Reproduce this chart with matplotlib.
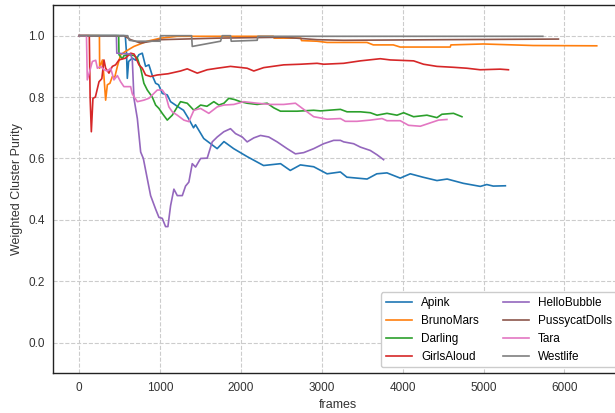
import matplotlib
matplotlib.use("Agg")
import matplotlib.pyplot as plt

# frames / weighted cluster purity
apink_x = [0, 570, 585, 595, 611, 657, 698, 738, 780, 821, 862, 904, 945, 982, 1027, 1089,
           1130, 1213, 1290, 1352, 1414, 1438, 1540, 1706, 1790, 1910, 2077, 2280, 2490,
           2610, 2735, 2900, 3065, 3230, 3310, 3560, 3680, 3806, 3970, 4094, 4250, 4424,
           4550, 4750, 4960, 5040, 5120, 5270]
apink_y = [1.0, 1.0, 0.943, 0.861, 0.916, 0.927, 0.92, 0.938, 0.943, 0.90, 0.905, 0.87,
           0.845, 0.84, 0.812, 0.807, 0.785, 0.77, 0.757, 0.73, 0.70, 0.71, 0.665, 0.632,
           0.655, 0.632, 0.606, 0.577, 0.583, 0.561, 0.579, 0.573, 0.55, 0.556, 0.539, 0.533,
           0.55, 0.553, 0.536, 0.55, 0.539, 0.528, 0.533, 0.519, 0.509, 0.515, 0.51, 0.511]

bruno_x = [0, 250, 253, 287, 306, 327, 348, 380, 410, 440, 472, 513, 574, 677, 842, 1007,
           1213, 2400, 2410, 2740, 2750, 2942, 3065, 3559, 3637, 3884, 3970, 4588, 4597,
           4996, 5613, 6400]
bruno_y = [1.0, 1.0, 0.894, 0.921, 0.867, 0.79, 0.84, 0.845, 0.867, 0.865, 0.90, 0.938,
           0.949, 0.965, 0.982, 0.992, 0.998, 0.998, 0.992, 0.992, 0.984, 0.982, 0.978, 0.978,
           0.97, 0.97, 0.963, 0.963, 0.97, 0.973, 0.968, 0.967]

darling_x = [0, 488, 492, 534, 553, 615, 680, 719, 760, 800, 842, 904, 945, 986, 1027, 1089,
             1151, 1213, 1253, 1336, 1418, 1501, 1580, 1665, 1727, 1790, 1850, 1920, 1995,
             2077, 2200, 2324, 2406, 2489, 2695, 2900, 2983, 3230, 3312, 3477, 3600, 3683,
             3806, 3930, 4012, 4135, 4300, 4424, 4485, 4629, 4733]
darling_y = [1.0, 1.0, 0.938, 0.925, 0.935, 0.938, 0.935, 0.927, 0.894, 0.845, 0.823, 0.80,
             0.774, 0.763, 0.747, 0.725, 0.741, 0.768, 0.785, 0.78, 0.757, 0.774, 0.77, 0.785,
             0.774, 0.78, 0.796, 0.792, 0.785, 0.78, 0.776, 0.78, 0.765, 0.754, 0.754, 0.757,
             0.755, 0.76, 0.752, 0.752, 0.749, 0.741, 0.747, 0.741, 0.749, 0.736, 0.741,
             0.733, 0.744, 0.747, 0.736]

girls_x = [0, 125, 135, 150, 170, 200, 245, 280, 306, 327, 368, 410, 450, 492, 574, 636,
           680, 739, 780, 821, 883, 966, 1100, 1253, 1336, 1460, 1583, 1707, 1871, 2077,
           2159, 2282, 2529, 2735, 2942, 3023, 3270, 3477, 3723, 3847, 4135, 4258, 4424,
           4629, 4794, 4958, 5205, 5308]
girls_y = [1.0, 1.0, 0.80, 0.687, 0.796, 0.80, 0.85, 0.86, 0.921, 0.894, 0.878, 0.90, 0.905,
           0.921, 0.927, 0.943, 0.94, 0.905, 0.894, 0.872, 0.867, 0.872, 0.876, 0.885, 0.892,
           0.878, 0.889, 0.894, 0.90, 0.894, 0.885, 0.896, 0.905, 0.907, 0.91, 0.907, 0.91,
           0.918, 0.925, 0.921, 0.918, 0.907, 0.90, 0.897, 0.894, 0.889, 0.891, 0.889]

hello_x = [0, 460, 465, 636, 657, 677, 719, 760, 793, 842, 883, 945, 986, 1027, 1068, 1097,
           1130, 1171, 1213, 1275, 1315, 1356, 1398, 1439, 1501, 1583, 1645, 1707, 1788,
           1871, 1933, 2016, 2077, 2159, 2242, 2344, 2448, 2571, 2674, 2776, 2900, 3023,
           3147, 3230, 3271, 3394, 3477, 3600, 3683, 3764]
hello_y = [1.0, 1.0, 0.943, 0.94, 0.92, 0.796, 0.73, 0.621, 0.60, 0.534, 0.479, 0.435, 0.408,
           0.405, 0.378, 0.378, 0.446, 0.50, 0.479, 0.479, 0.51, 0.523, 0.583, 0.572, 0.60,
           0.601, 0.654, 0.67, 0.687, 0.697, 0.681, 0.67, 0.654, 0.667, 0.675, 0.67, 0.654,
           0.632, 0.615, 0.619, 0.632, 0.648, 0.659, 0.659, 0.654, 0.648, 0.637, 0.626,
           0.612, 0.596]

pussy_x = [0, 553, 636, 760, 1007, 1707, 2529, 2942, 3270, 4500, 5926]
pussy_y = [1.0, 1.0, 0.987, 0.976, 0.987, 0.992, 0.995, 0.987, 0.985, 0.987, 0.989]

tara_x = [0, 90, 100, 163, 204, 225, 266, 307, 348, 389, 430, 472, 512, 553, 636, 657, 719,
          800, 862, 966, 1027, 1068, 1109, 1151, 1213, 1294, 1356, 1418, 1501, 1603, 1707,
          1788, 1912, 2035, 2201, 2365, 2529, 2674, 2776, 2900, 3065, 3230, 3291, 3436,
          3600, 3745, 3806, 3970, 4073, 4218, 4320, 4444, 4547]
tara_y = [1.0, 1.0, 0.856, 0.916, 0.92, 0.894, 0.90, 0.889, 0.885, 0.894, 0.856, 0.87, 0.85,
          0.834, 0.834, 0.81, 0.785, 0.79, 0.796, 0.823, 0.823, 0.807, 0.768, 0.752, 0.741,
          0.725, 0.72, 0.757, 0.763, 0.747, 0.768, 0.774, 0.776, 0.785, 0.78, 0.776, 0.776,
          0.78, 0.76, 0.736, 0.728, 0.73, 0.721, 0.721, 0.725, 0.73, 0.723, 0.723, 0.708,
          0.705, 0.714, 0.725, 0.727]

west_x = [0, 600, 620, 700, 1000, 1007, 1390, 1398, 1748, 1769, 1871, 1880, 2201, 2210, 5733]
west_y = [1.0, 1.0, 0.985, 0.982, 0.982, 1.0, 1.0, 0.965, 0.982, 1.0, 1.0, 0.982, 0.985,
          0.998, 0.998]

SERIES = [
    ("Apink", apink_x, apink_y),
    ("BrunoMars", bruno_x, bruno_y),
    ("Darling", darling_x, darling_y),
    ("GirlsAloud", girls_x, girls_y),
    ("HelloBubble", hello_x, hello_y),
    ("PussycatDolls", pussy_x, pussy_y),
    ("Tara", tara_x, tara_y),
    ("Westlife", west_x, west_y),
]


def main():
    plt.rcParams["font.family"] = ["Liberation Sans", "DejaVu Sans"]
    fig = plt.figure(figsize=(6.15, 4.13), dpi=100)
    ax = fig.add_axes([0.0867, 0.0961, 0.9257, 0.8918])

    colors = plt.rcParams["axes.prop_cycle"].by_key()["color"]
    for i, (name, xs, ys) in enumerate(SERIES):
        ax.plot(xs, ys, color=colors[i], lw=1.2, label=name)

    ax.set_xlim(-320, 6720)
    ax.set_ylim(-0.1, 1.1)
    ax.set_xticks([0, 1000, 2000, 3000, 4000, 5000, 6000])
    ax.set_yticks([0.0, 0.2, 0.4, 0.6, 0.8, 1.0])
    ax.grid(True, ls="--", color="#cccccc", lw=0.8)
    ax.tick_params(length=0, labelsize=8.5, labelcolor="#333333", pad=6)
    for s in ax.spines.values():
        s.set_color("#222222")
        s.set_linewidth(1.0)
    ax.set_xlabel("frames", fontsize=9, color="#333333")
    ax.set_ylabel("Weighted Cluster Purity", fontsize=9, color="#333333")
    ax.legend(loc="lower right", ncol=2, fontsize=8.5, framealpha=1.0,
              edgecolor="#cccccc", columnspacing=2.0, handlelength=2.2)
    fig.savefig("out.png")
    plt.close(fig)


if __name__ == "__main__":
    main()
